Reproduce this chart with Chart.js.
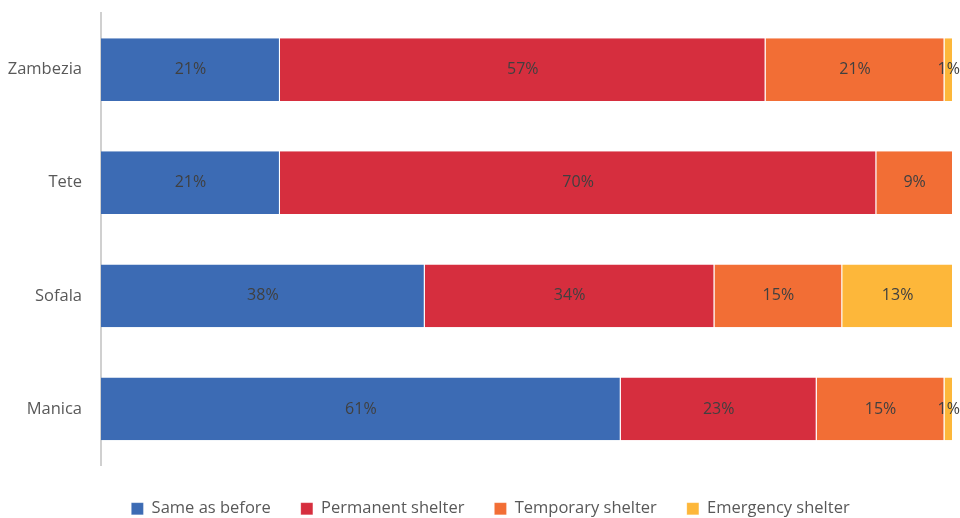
<!DOCTYPE html>
<html>
<head>
<meta charset="utf-8">
<script src="https://cdn.jsdelivr.net/npm/chart.js@4"></script>
<style>
  html, body { margin: 0; padding: 0; background: #fff; }
  #wrap { width: 960px; height: 518px; }
</style>
</head>
<body>
<div id="wrap"><canvas id="c" width="960" height="518"></canvas></div>
<script>
// Provinces, top to bottom
const provinces = ['Zambezia', 'Tete', 'Sofala', 'Manica'];

// Share of households by shelter type (%)
const sameAsBefore     = [21, 21, 38, 61];
const permanentShelter = [57, 70, 34, 23];
const temporaryShelter = [21,  9, 15, 15];
const emergencyShelter = [ 1,  0, 13,  1];

const seriesNames  = ['Same as before', 'Permanent shelter', 'Temporary shelter', 'Emergency shelter'];
const seriesValues = [sameAsBefore, permanentShelter, temporaryShelter, emergencyShelter];
const seriesColors = ['#3C6BB4', '#D62E3E', '#F26E35', '#FDB73A'];

const FONT = "'Open Sans', 'DejaVu Sans', sans-serif";

// Writes each segment's percentage at its centre
const segmentLabels = {
  id: 'segmentLabels',
  afterDatasetsDraw(chart) {
    const ctx = chart.ctx;
    ctx.save();
    ctx.font = '16px ' + FONT;
    ctx.fillStyle = '#404040';
    ctx.textAlign = 'center';
    ctx.textBaseline = 'middle';
    chart.data.datasets.forEach((ds, di) => {
      const meta = chart.getDatasetMeta(di);
      meta.data.forEach((bar, i) => {
        const v = ds.data[i];
        if (!v) return;
        const cx = (bar.x + bar.base) / 2;
        ctx.fillText(v + '%', cx, bar.y);
      });
    });
    ctx.restore();
  }
};

// Centres the legend row a little right of the canvas middle
const legendOffset = {
  id: 'legendOffset',
  afterLayout(chart) {
    if (chart.legend) chart.legend.left += 28;
  }
};

new Chart(document.getElementById('c'), {
  type: 'bar',
  data: {
    labels: provinces,
    datasets: seriesNames.map((name, k) => ({
      label: name,
      data: seriesValues[k],
      backgroundColor: seriesColors[k],
      borderColor: 'rgba(255,255,255,0.6)',
      borderWidth: { left: 0, right: 1, top: 0, bottom: 0 },
      borderSkipped: false,
      barPercentage: 0.555,
      categoryPercentage: 1.0
    }))
  },
  options: {
    indexAxis: 'y',
    responsive: false,
    animation: false,
    layout: { padding: { top: 13, right: 7, left: 0, bottom: -9 } },
    scales: {
      x: {
        stacked: true,
        min: 0,
        max: 100,
        display: true,
        grid: { display: false, drawTicks: false },
        border: { display: false },
        ticks: { display: false },
        afterFit(scale) {
          scale.height = 5;
          scale.paddingLeft = 0;
          scale.paddingRight = 0;
        }
      },
      y: {
        stacked: true,
        grid: { display: false, drawTicks: false },
        border: { display: true, color: '#D0D0D0', width: 2 },
        ticks: {
          color: '#595959',
          font: { family: FONT, size: 16.5 },
          padding: 19
        },
        afterFit(scale) {
          scale.width = 101;
          scale.paddingTop = 0;
          scale.paddingBottom = 0;
        }
      }
    },
    plugins: {
      legend: {
        position: 'bottom',
        labels: {
          boxWidth: 12,
          boxHeight: 12,
          padding: 30,
          color: '#595959',
          font: { family: FONT, size: 16.5 }
        }
      },
      tooltip: { enabled: false }
    }
  },
  plugins: [segmentLabels, legendOffset]
});
</script>
</body>
</html>
